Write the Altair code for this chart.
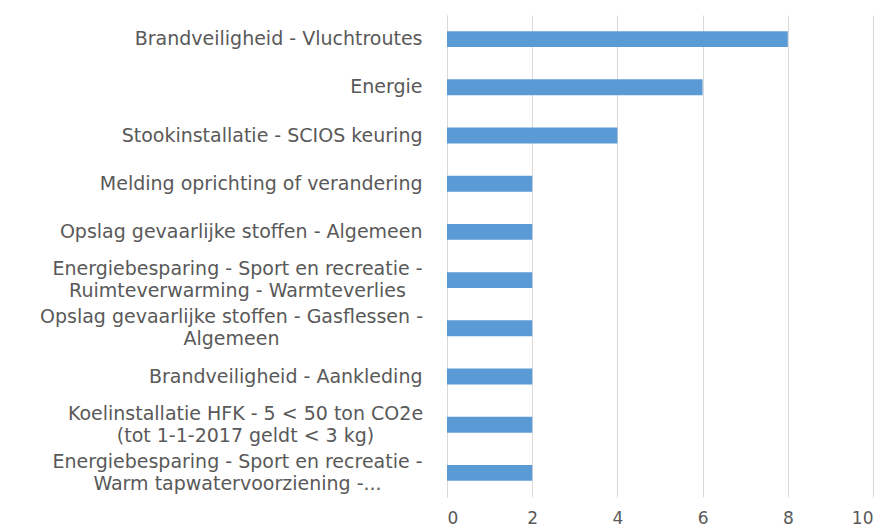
import altair as alt
import pandas as pd

categories = [
    "Brandveiligheid - Vluchtroutes",
    "Energie",
    "Stookinstallatie - SCIOS keuring",
    "Melding oprichting of verandering",
    "Opslag gevaarlijke stoffen - Algemeen",
    "Energiebesparing - Sport en recreatie -|Ruimteverwarming - Warmteverlies",
    "Opslag gevaarlijke stoffen - Gasflessen -|Algemeen",
    "Brandveiligheid - Aankleding",
    "Koelinstallatie HFK - 5 < 50 ton CO2e|(tot 1-1-2017 geldt < 3 kg)",
    "Energiebesparing - Sport en recreatie -|Warm tapwatervoorziening -...",
]
values = [8, 6, 4, 2, 2, 2, 2, 2, 2, 2]
x_ticks = [0, 2, 4, 6, 8, 10]

df = pd.DataFrame({"categorie": categories, "aantal": values})

# two-line labels are centred under their (widest) first line
two_line_padding = {
    "Energiebesparing - Sport en recreatie -": 210,
    "Opslag gevaarlijke stoffen - Gasflessen -": 216,
    "Koelinstallatie HFK - 5 < 50 ton CO2e": 202,
}
padding_conditions = [
    {"test": f"indexof(datum.value, {first!r}) == 0", "value": pad}
    for first, pad in two_line_padding.items()
]

chart = (
    alt.Chart(df)
    .mark_bar(color="#5B9BD5")
    .encode(
        y=alt.Y(
            "categorie:N",
            sort=categories,
            title=None,
            scale=alt.Scale(paddingInner=0.67, paddingOuter=0.335),
            axis=alt.Axis(
                labelExpr="split(datum.label, '|')",
                labelFont="DejaVu Sans",
                labelFontSize=19,
                labelColor="#595959",
                labelLineHeight=22,
                labelOffset={
                    "condition": {"test": "indexof(datum.value, '|') >= 0", "value": -11},
                    "value": 0,
                },
                labelAlign={
                    "condition": {"test": "indexof(datum.value, '|') >= 0", "value": "center"},
                    "value": "right",
                },
                labelPadding={"condition": padding_conditions, "value": 25},
                labelLimit=0,
                ticks=False,
                domainColor="#d9d9d9",
                minExtent=439,
                maxExtent=439,
            ),
        ),
        x=alt.X(
            "aantal:Q",
            title=None,
            scale=alt.Scale(domain=[0, 10], nice=False),
            axis=alt.Axis(
                values=x_ticks,
                labelFont="DejaVu Sans",
                labelFontSize=17,
                labelColor="#595959",
                labelPadding=13,
                domain=False,
                ticks=False,
                gridColor="#d9d9d9",
                gridWidth=1,
            ),
        ),
    )
    .properties(
        width=426,
        height=482,
        padding={"left": 0, "top": 7, "right": 5, "bottom": 0},
    )
    .configure_view(stroke=None)
)

chart.save("out.html", embed_options={"renderer": "svg", "actions": False})
